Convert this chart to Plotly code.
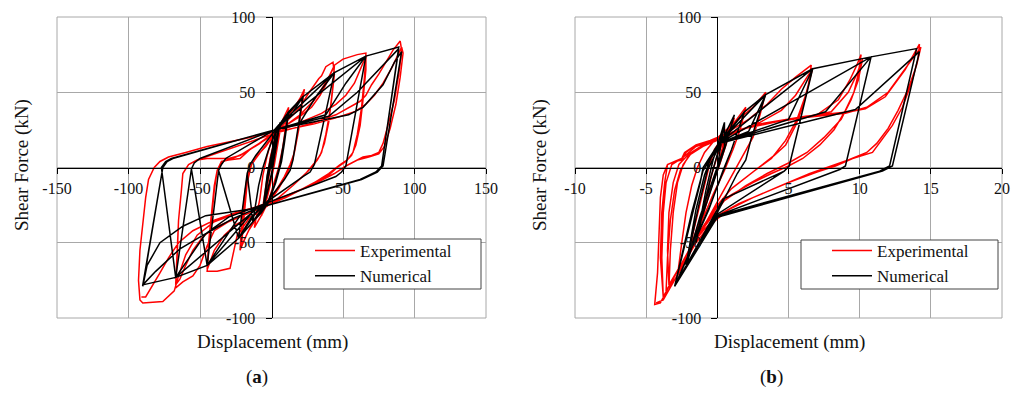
import plotly.graph_objects as go

# ---------------- data ----------------
# Panel (a): displacement (mm), shear force (kN)
exp_a = [
    (0, 0), (2, 12), (4, 22), (6, 28), (5, 20), (3, 8), (1, -2), (-1, -10), (-3, -20), (-5, -27),
    (-4, -18), (-2, -6), (0, 4), (2, 14), (5, 26), (7, 30), (5, 18), (2, 2), (-1, -12), (-4, -24),
    (-7, -32), (-5, -20), (-3, -6), (-1, 6), (2, 18), (6, 28), (10, 36), (12, 40), (10, 28), (8, 14),
    (5, 0), (2, -10), (-2, -22), (-6, -30), (-11, -38), (-12, -40),
    (-8, -20), (-6, -5), (-3, 8), (0, 18), (4, 26), (10, 33), (16, 40), (20, 46), (23, 52), (21, 40),
    (19, 25), (16, 10), (13, 2), (9, -6), (4, -14), (-2, -22), (-8, -30), (-14, -38), (-18, -46),
    (-22, -55), (-21, -40), (-19, -20), (-17, -6), (-14, 2), (-10, 8), (-4, 14), (2, 22), (8, 30),
    (14, 37), (19, 44), (22, 50), (20, 35), (18, 20), (15, 6), (11, -4), (5, -14), (-2, -24),
    (-10, -33), (-16, -42), (-21, -52),
    (-19, -30), (-17, -10), (-14, 2), (-8, 10), (0, 20), (10, 30), (20, 40), (25, 48), (30, 55),
    (33, 59), (35, 61), (38, 67), (43, 70), (44, 62), (42, 45), (40, 30), (37, 16), (34, 8), (30, 3),
    (24, -4), (15, -12), (5, -20), (-5, -27), (-15, -33), (-24, -45), (-27, -58), (-29, -67),
    (-38, -69), (-45, -69), (-44, -55), (-42, -35), (-40, -15), (-38, -2), (-35, 4), (-30, 5),
    (-22, 6), (-15, 12), (-8, 16), (0, 22), (10, 28), (20, 34), (28, 40), (34, 48), (38, 55),
    (42, 64), (44, 68), (43, 55), (41, 38), (38, 22), (35, 10), (32, 5), (26, -2), (15, -12),
    (5, -20), (-5, -27), (-15, -33), (-25, -38), (-33, -45), (-40, -55), (-44, -65), (-45, -68),
    (-44, -50), (-42, -30), (-40, -12), (-38, -2), (-34, 4), (-25, 7), (-18, 10), (-10, 15), (0, 22),
    (10, 28), (20, 35), (30, 45), (35, 52), (40, 60), (44, 68), (50, 72), (56, 74), (60, 75),
    (66, 76), (66, 65), (64, 45), (62, 28), (59, 15), (56, 8), (52, 4), (46, 0), (40, -5), (30, -10),
    (20, -15), (10, -20), (0, -24), (-10, -28), (-20, -32), (-30, -36), (-40, -42), (-45, -52),
    (-50, -65), (-55, -72), (-62, -76), (-67, -80), (-66, -60), (-65, -35), (-63, -15), (-62, -4),
    (-58, 2), (-52, 5), (-45, 6), (-30, 6), (-22, 8), (-15, 12), (-5, 18), (5, 24), (15, 28),
    (25, 32), (35, 36), (45, 42), (52, 48), (58, 56), (62, 65), (65, 72), (66, 74), (65, 60),
    (63, 40), (60, 22), (57, 10), (53, 5), (48, 2), (40, -4), (30, -10), (20, -15), (10, -20),
    (0, -24), (-10, -28), (-20, -32), (-30, -36), (-40, -40), (-48, -46), (-55, -55), (-60, -65),
    (-64, -74), (-67, -78),
    (-66, -60), (-65, -35), (-63, -15), (-62, -4), (-58, 2), (-52, 5), (-40, 9), (-25, 14),
    (-10, 19), (0, 22), (15, 26), (30, 30), (45, 35), (55, 40), (62, 44), (66, 48), (70, 55),
    (75, 62), (80, 70), (85, 78), (90, 84), (91, 78), (89, 62), (86, 45), (82, 30), (78, 16),
    (75, 10), (70, 8), (64, 7), (58, 4), (52, 1), (44, -4), (32, -10), (20, -15), (10, -19),
    (0, -23), (-20, -29), (-40, -36), (-52, -45), (-60, -58), (-65, -72), (-68, -82), (-76, -89),
    (-90, -90), (-92, -88), (-93, -75), (-92, -55), (-90, -35), (-88, -20), (-86, -8), (-82, 0),
    (-78, 4), (-72, 7), (-60, 10), (-45, 14), (-30, 17), (-15, 20), (0, 23), (15, 26), (30, 29),
    (45, 33), (58, 37), (66, 42), (72, 48), (78, 56), (84, 66), (88, 74), (91, 80), (92, 76),
    (90, 60), (87, 42), (83, 26), (79, 14), (75, 9), (68, 7), (60, 5), (52, 1), (44, -4), (32, -10),
    (20, -15), (10, -19), (0, -23), (-10, -26), (-25, -30), (-40, -35), (-55, -42), (-65, -50),
    (-72, -60), (-78, -70), (-84, -80), (-88, -86), (-91, -86),
]

num_a = [
    (0, 0), (3, 16), (6, 30), (3, 12), (0, -4), (-3, -16), (-6, -28), (-3, -10), (0, 5), (3, 18),
    (6, 30), (3, 11), (0, -5), (-3, -17), (-6, -28),
    (-3, -5), (0, 10), (3, 23), (8, 30), (12, 37), (9, 16), (7, 4), (3, -10), (-2, -23), (-7, -30),
    (-13, -36), (-9, -12), (-6, 0), (-2, 12), (3, 24), (12, 37), (8, 14), (6, 2), (2, -12),
    (-3, -24), (-13, -36),
    (-17, -4), (-15, 2), (-11, 8), (2, 24), (12, 37), (22, 47), (15, 5), (13, -2), (9, -8),
    (-5, -25), (-13, -36), (-23, -47), (-17, -4), (-15, 2), (-11, 8), (2, 24), (13, 34), (22, 47),
    (15, 5), (13, -2), (9, -8), (-5, -25), (-14, -33), (-23, -47),
    (-37, -2), (-35, 2), (-32, 6), (2, 25), (22, 47), (44, 63), (30, 2), (27, -3), (22, -6),
    (-8, -26), (-23, -47), (-45, -65), (-37, -2), (-35, 2), (-32, 6), (2, 25), (20, 30), (31, 47),
    (44, 63), (30, 2), (27, -3), (22, -6), (-8, -26), (-22, -32), (-33, -48), (-45, -65),
    (-56, -1), (-54, 3), (-50, 6), (2, 25), (44, 63), (66, 74), (52, 1), (49, -3), (45, -6),
    (-10, -26), (-45, -65), (-67, -73), (-56, -1), (-54, 3), (-50, 6), (2, 25), (38, 35), (52, 56),
    (66, 74), (52, 1), (49, -3), (45, -6), (-10, -26), (-30, -33), (-46, -44), (-67, -73),
    (-77, 0), (-74, 4), (-70, 6), (2, 25), (66, 74), (89, 80), (77, 1), (73, -3), (62, -8),
    (-10, -27), (-67, -73), (-90, -78), (-76, 0), (-73, 4), (-69, 6), (2, 25), (54, 35), (64, 40),
    (78, 55), (86, 70), (91, 77), (78, 1), (74, -3), (63, -8), (-10, -27), (-46, -32), (-62, -39),
    (-78, -50), (-87, -65), (-90, -79), (-76, 0), (-73, 4), (-69, 6), (2, 25), (40, 34), (60, 50),
    (89, 79), (77, 1), (73, -3), (62, -8), (-10, -27), (-27, -34), (-46, -44), (-64, -54),
    (-81, -69), (-90, -78),
]

# Panel (b)
exp_b = [
    (0, 0), (0.3, 12), (0.6, 22), (1, 30), (0.6, 18), (0.2, 5), (-0.3, -10), (-0.8, -25),
    (-1.2, -38), (-0.8, -20), (-0.4, -5), (0, 8), (0.6, 22), (1.2, 33), (0.7, 18), (0.2, 3),
    (-0.5, -15), (-1.2, -35), (-2, -55), (-1.5, -35), (-1, -15), (-0.6, 0), (-0.2, 12), (0.5, 22),
    (1.2, 30), (2, 40), (1.6, 25), (1.1, 12), (0.5, -2), (-0.3, -18), (-1.2, -38), (-2.2, -60),
    (-2.8, -72), (-2.5, -50), (-2.2, -30), (-1.8, -12), (-1.4, 0), (-0.9, 10), (-0.3, 17),
    (0.5, 24), (1.5, 32), (2.5, 40), (3.4, 50), (3, 35), (2.5, 20), (1.8, 8), (1, -5), (0, -22),
    (-1, -40), (-2, -58), (-2.8, -72), (-3.4, -80),
    (-3.3, -55), (-3.1, -30), (-2.8, -10), (-2.4, 2), (-1.8, 10), (-0.8, 15), (0, 19), (1, 25),
    (2.2, 32), (3.5, 42), (4.5, 52), (5.5, 60), (6.6, 68), (6.4, 55), (6, 40), (5.5, 28), (4.8, 15),
    (4, 8), (3.2, 2), (2.2, -5), (1, -14), (0, -25), (-1, -40), (-2, -56), (-3, -72), (-3.6, -82),
    (-3.5, -60), (-3.3, -35), (-3, -15), (-2.6, -2), (-2, 8), (-1, 14), (0, 18), (1.5, 24), (3, 30),
    (4.5, 38), (5.5, 48), (6.3, 60), (6.7, 66), (6.2, 48), (5.6, 32), (4.8, 18), (3.8, 6),
    (2.5, -3), (1, -14), (0, -25), (-1.2, -42), (-2.4, -62), (-3.4, -78),
    (-3.5, -55), (-3.4, -30), (-3.1, -10), (-2.7, 2), (-2, 9), (-1, 15), (0, 19), (1.5, 25),
    (3, 29), (5, 32), (7, 35), (8.5, 45), (9.3, 58), (9.8, 68), (10.1, 75), (9.9, 62), (9.6, 50),
    (9, 38), (8.2, 25), (7.2, 15), (6, 6), (5, 1), (3.8, -4), (2.5, -10), (1, -18), (0, -26),
    (-1, -40), (-2, -56), (-3, -72), (-3.8, -86), (-3.9, -60), (-3.8, -30), (-3.6, -10),
    (-3.2, 2), (-2.5, 6), (-1.5, 14), (0, 19), (2, 26), (4, 30), (6, 33), (8, 37), (9.2, 50),
    (9.8, 62), (10.2, 72), (9.9, 58), (9.4, 45), (8.7, 32), (7.5, 20), (6.3, 10), (5, 3),
    (3.5, -4), (2, -12), (0.5, -22), (-0.8, -38), (-2, -55), (-3, -72), (-3.8, -86),
    (-4, -60), (-3.9, -30), (-3.7, -10), (-3.5, 2), (-3, 4), (-2.5, 5), (-2.2, 10), (-1.5, 15),
    (-0.5, 18), (0.5, 22), (3, 29), (6.2, 34), (9.3, 37), (10.4, 39), (11.8, 47), (13.2, 65),
    (14.2, 82), (14.1, 72), (13.6, 55), (13, 40), (12.3, 28), (11.5, 18), (10.9, 10), (9.5, 6),
    (8.3, 1), (7, -3), (5, -10), (3, -18), (1.5, -24), (0, -32), (-1, -42), (-1.7, -50),
    (-2.2, -61), (-2.8, -72), (-3.4, -79), (-4, -90), (-4.4, -91), (-4.2, -70), (-4.1, -45),
    (-4, -20), (-3.8, -5), (-3.5, 2), (-3, 4), (-2.5, 6), (-2.3, 10), (-1.5, 15), (-0.3, 18),
    (1, 23), (3, 29), (6, 33), (9, 36), (10.5, 40), (12, 50), (13.2, 66), (14.3, 80), (14, 68),
    (13.4, 52), (12.7, 38), (12, 26), (11.2, 16), (10.5, 10), (9.2, 5), (8, 1), (6.5, -4),
    (4.5, -12), (2.5, -20), (0.8, -28), (-0.5, -38), (-1.5, -50), (-2.5, -66), (-3.2, -78),
    (-3.8, -88), (-4.3, -90),
]

num_b = [
    (0, 0), (0.5, 30), (0.1, 12), (-0.5, -8), (-1.5, -50), (-0.8, -15), (-0.3, 5), (0.5, 30),
    (0.5, 14), (-0.2, -5), (-1.2, -32), (-2.2, -65), (-1.3, -25), (-0.7, -2), (0, 12), (1.2, 35),
    (0.6, 15), (-0.2, -8), (-2.2, -65),
    (-1.5, -28), (-0.9, -5), (-0.3, 10), (1.9, 37), (1.0, 12), (0.5, 0), (-0.5, -25), (-3, -79),
    (-1.8, -30), (-1, -2), (0.2, 16), (1.9, 37), (1.0, 12), (0.4, -2), (-0.6, -28), (-3, -79),
    (-1.2, -10), (-1, 0), (0.1, 16), (1.9, 37), (3.4, 48.5), (2.4, 20), (2.0, 5), (1.4, -4),
    (0, -30), (-3, -79), (-1.2, -10), (-1, 0), (0.1, 16), (2.2, 24), (3.4, 48.5), (2.4, 20),
    (2.0, 5), (1.4, -4), (0, -30), (-3, -79),
    (-1.2, -10), (-1, 0), (0.1, 16), (3.4, 48.5), (6.7, 65.6), (5.05, 1), (4.7, -2.4), (0.4, -21),
    (-3, -79), (-1.2, -10), (-1, 0), (0.1, 16), (5.0, 32), (6.7, 65.6), (5.05, 1), (4.7, -2.4),
    (0, -31), (-3, -79),
    (-1.2, -10), (-1, 0), (0.1, 16), (6.7, 65.6), (10.8, 73.5), (9.0, 1), (8.6, -1.3), (0, -32),
    (-3, -79), (-1.2, -10), (-1, 0), (0.1, 16), (7.6, 37), (10.8, 73.5), (9.0, 1), (8.6, -1.3),
    (0, -32), (-3, -79),
    (-1.2, -10), (-1, 0), (0.1, 16), (10.8, 73.5), (14.0, 79), (12.1, 1), (11.4, -2.4), (0, -32),
    (-3, -79), (-1.2, -10), (-1, 0), (0.1, 16), (9.7, 38.5), (14.2, 77), (12.3, 1), (11.6, -2.4),
    (0, -33), (-3, -79),
]

x_ticks_a = [-150, -100, -50, 50, 100, 150]
x_ticks_b = [-10, -5, 5, 10, 15, 20]
y_ticks = [-100, -50, 0, 50, 100]
x_range_a = [-150, 150]
x_range_b = [-10, 20]
y_range = [-100, 100]

series_names = ["Experimental", "Numerical"]
panel_labels = ["(<b>a</b>)", "(<b>b</b>)"]
x_title = "Displacement (mm)"
y_title = "Shear Force (kN)"

# ---------------- layout geometry (pixels of the 1024x398 window) ----------------
W, H = 1024, 398
OFF = 8  # default page margin of the html body
FONT = "Liberation Serif, Times New Roman, serif"
RED = "#ff0000"
BLACK = "#000000"
GRID = "#a8a8a8"
TXT = "#111111"
LW = 1.5


def px_x(p):
    return (p - OFF) / W


def px_y(p):
    return 1 - (p - OFF) / H


dom_ax = [px_x(57), px_x(486)]
dom_bx = [px_x(575), px_x(1002)]
dom_y = [px_y(318), px_y(17)]


def free_pos(dom, rng):
    return dom[0] + (0 - rng[0]) / (rng[1] - rng[0]) * (dom[1] - dom[0])


def labels(vals):
    return [str(v) for v in vals]


fig = go.Figure()


def unzip(pts):
    xs, ys = zip(*pts)
    return list(xs), list(ys)


for (exp, num, xa, ya, leg) in [
    (exp_a, num_a, "x", "y", "legend"),
    (exp_b, num_b, "x2", "y2", "legend2"),
]:
    ex, ey = unzip(exp)
    nx, ny = unzip(num)
    fig.add_trace(go.Scatter(x=ex, y=ey, mode="lines", name=series_names[0],
                             line=dict(color=RED, width=LW), xaxis=xa, yaxis=ya,
                             legend=leg))
    fig.add_trace(go.Scatter(x=nx, y=ny, mode="lines", name=series_names[1],
                             line=dict(color=BLACK, width=LW), xaxis=xa, yaxis=ya,
                             legend=leg))

tickfont = dict(family=FONT, size=16, color=TXT)
common_x = dict(showgrid=True, gridcolor=GRID, gridwidth=1, zeroline=False,
                showline=True, linecolor=BLACK, linewidth=1, ticks="outside",
                ticklen=5, tickcolor=BLACK, tickfont=tickfont, anchor="free",
                position=free_pos(dom_y, y_range), tickmode="array",
                ticklabelstandoff=1, fixedrange=True, automargin=False)
common_y = dict(showgrid=True, gridcolor=GRID, gridwidth=1, zeroline=False,
                showline=True, linecolor=BLACK, linewidth=1, ticks="outside",
                ticklen=6, tickcolor=BLACK, tickfont=tickfont, anchor="free",
                tickmode="array", tickvals=y_ticks, ticktext=labels(y_ticks),
                range=y_range, ticklabelstandoff=7, fixedrange=True,
                domain=dom_y, automargin=False)

fig.update_layout(
    width=W, height=H,
    margin=dict(l=0, r=0, t=0, b=0, autoexpand=False),
    paper_bgcolor="white", plot_bgcolor="white",
    font=dict(family=FONT, size=16, color=TXT),
    xaxis=dict(common_x, domain=dom_ax, range=x_range_a, tickvals=x_ticks_a,
               ticktext=labels(x_ticks_a)),
    yaxis=dict(common_y, position=free_pos(dom_ax, x_range_a)),
    xaxis2=dict(common_x, domain=dom_bx, range=x_range_b, tickvals=x_ticks_b,
                ticktext=labels(x_ticks_b)),
    yaxis2=dict(common_y, position=free_pos(dom_bx, x_range_b)),
    legend=dict(x=px_x(310), y=px_y(233), xanchor="left", yanchor="top",
                bgcolor="rgba(0,0,0,0)", borderwidth=0, itemwidth=40,
                font=dict(family=FONT, size=17, color=TXT)),
    legend2=dict(x=px_x(827), y=px_y(233), xanchor="left", yanchor="top",
                 bgcolor="rgba(0,0,0,0)", borderwidth=0, itemwidth=40,
                 font=dict(family=FONT, size=17, color=TXT)),
    showlegend=True,
)

shapes = []
for xr, yr in [("x domain", "y domain"), ("x2 domain", "y2 domain")]:
    shapes.append(dict(type="rect", xref=xr, yref=yr, x0=0, x1=1, y0=0, y1=1,
                       line=dict(color=GRID, width=1), layer="below"))
for (l, t, r, b) in [(284, 239, 481, 289), (801, 240, 998, 289)]:
    shapes.append(dict(type="rect", xref="paper", yref="paper",
                       x0=px_x(l), x1=px_x(r), y0=px_y(b), y1=px_y(t),
                       line=dict(color="#444444", width=1), fillcolor="white",
                       layer="above"))
fig.update_layout(shapes=shapes)

title_font = dict(family=FONT, size=19, color=TXT)
ann = []
for xc, ylab_x, lab_x, lab in [(272, 22, 257, panel_labels[0]),
                                (789, 540, 771, panel_labels[1])]:
    ann.append(dict(text=x_title, x=px_x(xc), y=px_y(342), xref="paper", yref="paper",
                    showarrow=False, xanchor="center", yanchor="middle", font=title_font))
    ann.append(dict(text=y_title, x=px_x(ylab_x), y=px_y(165), xref="paper", yref="paper",
                    showarrow=False, xanchor="center", yanchor="middle", textangle=-90,
                    font=title_font))
    ann.append(dict(text=lab, x=px_x(lab_x), y=px_y(377), xref="paper", yref="paper",
                    showarrow=False, xanchor="center", yanchor="middle", font=title_font))
fig.update_layout(annotations=ann)

fig.write_html("out.html")
